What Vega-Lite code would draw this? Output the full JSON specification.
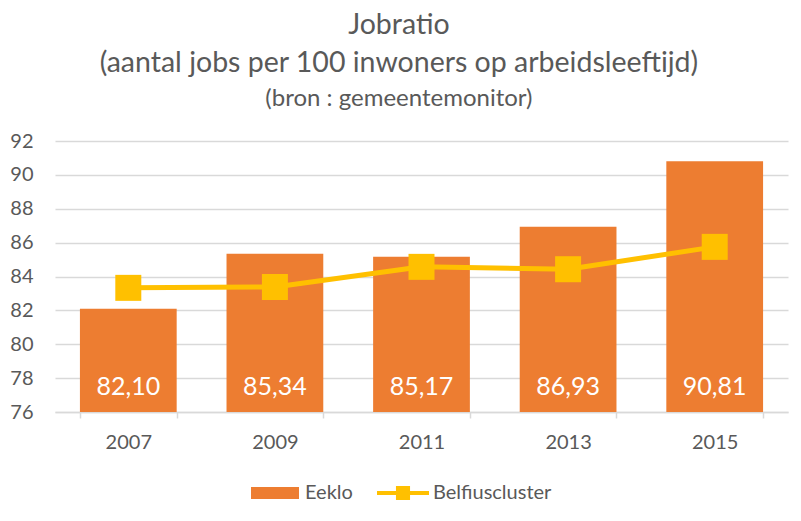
{
  "$schema": "https://vega.github.io/schema/vega-lite/v6.json",
  "autosize": "none",
  "width": 733,
  "height": 271,
  "padding": {"left": 55, "top": 141, "right": 13, "bottom": 109},
  "background": "white",
  "config": {
    "view": {"stroke": null},
    "font": "Lato",
    "locale": {"number": {"decimal": ",", "thousands": ".", "grouping": [3], "currency": ["€", ""]}}
  },
  "title": {
    "text": ["Jobratio", "(aantal jobs per 100 inwoners op arbeidsleeftijd)"],
    "subtitle": "(bron : gemeentemonitor)",
    "font": "Lato", "subtitleFont": "Lato",
    "fontSize": 28.5, "subtitleFontSize": 24,
    "lineHeight": 38,
    "fontWeight": "normal",
    "color": "#595959", "subtitleColor": "#595959",
    "anchor": "middle", "frame": "bounds",
    "subtitlePadding": 10,
    "offset": 20
  },
  "data": {"values": [
    {"year": "2007", "series": "Eeklo", "value": 82.10},
    {"year": "2009", "series": "Eeklo", "value": 85.34},
    {"year": "2011", "series": "Eeklo", "value": 85.17},
    {"year": "2013", "series": "Eeklo", "value": 86.93},
    {"year": "2015", "series": "Eeklo", "value": 90.81},
    {"year": "2007", "series": "Belfiuscluster", "value": 83.33},
    {"year": "2009", "series": "Belfiuscluster", "value": 83.38},
    {"year": "2011", "series": "Belfiuscluster", "value": 84.57},
    {"year": "2013", "series": "Belfiuscluster", "value": 84.43},
    {"year": "2015", "series": "Belfiuscluster", "value": 85.75}
  ]},
  "encoding": {
    "x": {
      "field": "year", "type": "nominal", "title": null,
      "scale": {"paddingInner": 0.34, "paddingOuter": 0.17},
      "axis": {
        "labelAngle": 0, "labelFontSize": 20, "labelColor": "#595959", "labelFont": "Lato",
        "domainColor": "#D9D9D9", "domainWidth": 1.5, "tickColor": "#D9D9D9", "tickWidth": 1.5,
        "tickBand": "extent", "tickSize": 6, "labelPadding": 14
      }
    },
    "y": {
      "field": "value", "type": "quantitative", "title": null,
      "scale": {"domain": [76, 92], "zero": false, "nice": false},
      "axis": {
        "values": [76, 78, 80, 82, 84, 86, 88, 90, 92],
        "grid": true, "gridColor": "#D9D9D9", "gridWidth": 1.5,
        "domain": false, "ticks": false, "labelOverlap": false,
        "labelFontSize": 20, "labelColor": "#595959", "labelFont": "Lato", "labelPadding": 22
      }
    }
  },
  "layer": [
    {
      "transform": [{"filter": "datum.series === 'Eeklo'"}],
      "mark": {"type": "bar", "color": "#ED7D31"},
      "encoding": {
        "y2": {"datum": 76},
        "color": {
          "field": "series", "type": "nominal",
          "scale": {"domain": ["Eeklo", "Belfiuscluster"], "range": ["#ED7D31", "#FFC000"]},
          "legend": {
            "orient": "none", "legendX": 204, "legendY": 336,
            "direction": "horizontal", "title": null,
            "labelFontSize": 20, "labelColor": "#595959", "labelFont": "Lato",
            "symbolSize": 1024, "symbolType": "square",
            "columnPadding": 24, "labelOffset": 14,
            "encode": {"symbols": {"update": {
              "shape": {"signal": "datum.value === 'Eeklo' ? 'M-1.5,-0.375H1.5V0.375H-1.5Z' : 'M-1.625,-0.125H-0.44V-0.44H0.44V-0.125H1.625V0.125H0.44V0.44H-0.44V0.125H-1.625Z'"},
              "fill": {"signal": "datum.value === 'Eeklo' ? '#ED7D31' : '#FFC000'"},
              "fillOpacity": {"value": 1},
              "stroke": {"value": "transparent"},
              "strokeWidth": {"value": 0},
              "opacity": {"value": 1}
            }}}
          }
        }
      }
    },
    {
      "transform": [{"filter": "datum.series === 'Eeklo'"}],
      "mark": {"type": "text", "color": "white", "fontSize": 25, "font": "Lato", "baseline": "alphabetic", "dy": -17},
      "encoding": {
        "y": {"datum": 76},
        "text": {"field": "value", "type": "quantitative", "format": ".2f"}
      }
    },
    {
      "transform": [{"filter": "datum.series === 'Belfiuscluster'"}],
      "mark": {"type": "line", "strokeWidth": 5},
      "encoding": {
        "color": {"field": "series", "type": "nominal"}
      }
    },
    {
      "transform": [{"filter": "datum.series === 'Belfiuscluster'"}],
      "mark": {"type": "point", "shape": "square", "filled": true, "size": 676, "opacity": 1},
      "encoding": {
        "color": {"field": "series", "type": "nominal"}
      }
    }
  ]
}
